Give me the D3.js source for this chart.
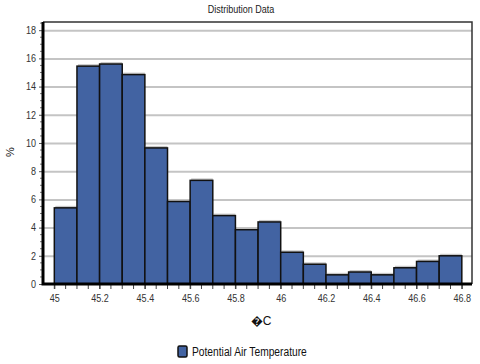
<!DOCTYPE html>
<html>
<head>
<meta charset="utf-8">
<script src="https://cdn.jsdelivr.net/npm/d3@7"></script>
<style>
  body { margin: 0; background: #fff; }
  text { font-family: "Liberation Sans Narrow", "Liberation Sans", Arial, sans-serif; }
</style>
</head>
<body>
<svg id="chart" width="480" height="364"></svg>
<script>
// bin starts (deg C), bin width 0.1
var binStarts = [45.0, 45.1, 45.2, 45.3, 45.4, 45.5, 45.6, 45.7, 45.8,
                 45.9, 46.0, 46.1, 46.2, 46.3, 46.4, 46.5, 46.6, 46.7];
var percents = [5.4, 15.45, 15.6, 14.85, 9.65, 5.85, 7.35, 4.85, 3.85,
                4.4, 2.25, 1.4, 0.65, 0.85, 0.65, 1.15, 1.6, 2.0];
var xTicks = [45, 45.2, 45.4, 45.6, 45.8, 46, 46.2, 46.4, 46.6, 46.8];
var yTicks = [0, 2, 4, 6, 8, 10, 12, 14, 16, 18];
var binWidth = 0.1;

var bins = binStarts.map(function(d, i) { return {x0: d, x1: d + binWidth, v: percents[i]}; });

var plotL = 43, plotR = 472, plotT = 22, plotB = 284;
var narrow = "scale(0.86,1)";

var svg = d3.select('#chart');

var x = d3.scaleLinear().domain([44.95, 46.845]).range([plotL, plotR]);
var y = d3.scaleLinear().domain([0, 18.58]).range([plotB, plotT]);

// title
svg.append("g")
    .attr("transform", "translate(241,13) " + narrow)
    .append("text")
    .attr("text-anchor", "middle")
    .attr("font-size", 10.5)
    .attr("fill", "#222")
    .text("Distribution Data");

// grid lines
svg.append("g").selectAll("line")
    .data(yTicks.filter(function(d) { return d > 0; }))
    .enter().append("line")
    .attr("x1", plotL).attr("x2", plotR)
    .attr("y1", function(d) { return y(d) + 0.5; })
    .attr("y2", function(d) { return y(d) + 0.5; })
    .attr("stroke", "#c4c4c4")
    .attr("stroke-width", 2);

// bar shadows (top only)
svg.append("g").selectAll("rect")
    .data(bins)
    .enter().append("rect")
    .attr("x", function(d) { return x(d.x0) + 1; })
    .attr("y", function(d) { return y(d.v) - 2; })
    .attr("width", function(d) { return x(d.x1) - x(d.x0) - 1; })
    .attr("height", function(d) { return plotB - y(d.v); })
    .attr("fill", "#c8c8c8");

// bars
svg.append("g").selectAll("rect")
    .data(bins)
    .enter().append("rect")
    .attr("x", function(d) { return x(d.x0); })
    .attr("y", function(d) { return y(d.v); })
    .attr("width", function(d) { return x(d.x1) - x(d.x0); })
    .attr("height", function(d) { return plotB - y(d.v); })
    .attr("fill", "#4263a2")
    .attr("stroke", "#111")
    .attr("stroke-width", 1.5);

// frame top/right
svg.append("path")
    .attr("d", "M" + plotL + "," + plotT + "H" + plotR + "V" + plotB)
    .attr("fill", "none")
    .attr("stroke", "#333")
    .attr("stroke-width", 1.5);

// y axis
var yAxis = d3.axisLeft(y)
    .tickValues(yTicks)
    .tickSize(4)
    .tickPadding(3)
    .tickFormat(d3.format("d"));
var gy = svg.append("g")
    .attr("transform", "translate(" + plotL + ",0)")
    .call(yAxis);
gy.select(".domain").remove();
gy.selectAll("text").attr("font-size", 10.5).attr("fill", "#333")
    .style("font-family", '"Liberation Sans Narrow", "Liberation Sans", Arial, sans-serif')
    .attr("transform", narrow)
    .attr("x", -7 / 0.86);
gy.selectAll("line").attr("stroke", "#555");

// y minor ticks
var yMinor = d3.range(0, 18.6, 0.5).filter(function(d) { return d % 2 !== 0; });
svg.append("g").selectAll("line")
    .data(yMinor)
    .enter().append("line")
    .attr("x1", plotL - 3).attr("x2", plotL)
    .attr("y1", function(d) { return y(d); })
    .attr("y2", function(d) { return y(d); })
    .attr("stroke", "#777");

// x axis
var xAxis = d3.axisBottom(x)
    .tickValues(xTicks)
    .tickSize(5)
    .tickPadding(6)
    .tickFormat(d3.format("~g"));
var gx = svg.append("g")
    .attr("transform", "translate(0," + plotB + ")")
    .call(xAxis);
gx.select(".domain").remove();
gx.selectAll("text").attr("font-size", 10.5).attr("fill", "#333")
    .style("font-family", '"Liberation Sans Narrow", "Liberation Sans", Arial, sans-serif')
    .attr("transform", narrow);
gx.selectAll("line").attr("stroke", "#444");

// x minor ticks
var xMinor = d3.range(0, 37).map(function(i) { return 45 + i * 0.05; });
svg.append("g").selectAll("line")
    .data(xMinor)
    .enter().append("line")
    .attr("x1", function(d) { return x(d); })
    .attr("x2", function(d) { return x(d); })
    .attr("y1", plotB)
    .attr("y2", plotB + 5)
    .attr("stroke", "#444");

// thick axis lines
svg.append("path")
    .attr("d", "M" + plotL + "," + plotT + "V" + plotB + "H" + plotR)
    .attr("fill", "none")
    .attr("stroke", "#000")
    .attr("stroke-width", 3);

// axis titles
svg.append("text")
    .attr("x", 261)
    .attr("y", 325)
    .attr("text-anchor", "middle")
    .attr("font-size", 12)
    .attr("fill", "#111")
    .text("\uFFFDC");

svg.append("text")
    .attr("transform", "translate(14,152) rotate(-90)")
    .attr("text-anchor", "middle")
    .attr("font-size", 11)
    .attr("fill", "#111")
    .text("%");

// legend
var legend = svg.append("g").attr("transform", "translate(178,346)");
legend.append("rect")
    .attr("width", 9).attr("height", 11)
    .attr("rx", 1.5)
    .attr("fill", "#4263a2")
    .attr("stroke", "#111")
    .attr("stroke-width", 1.5);
legend.append("g")
    .attr("transform", "translate(14,10) scale(0.82,1)")
    .append("text")
    .attr("font-size", 12.5)
    .attr("fill", "#111")
    .text("Potential Air Temperature");
</script>
</body>
</html>
